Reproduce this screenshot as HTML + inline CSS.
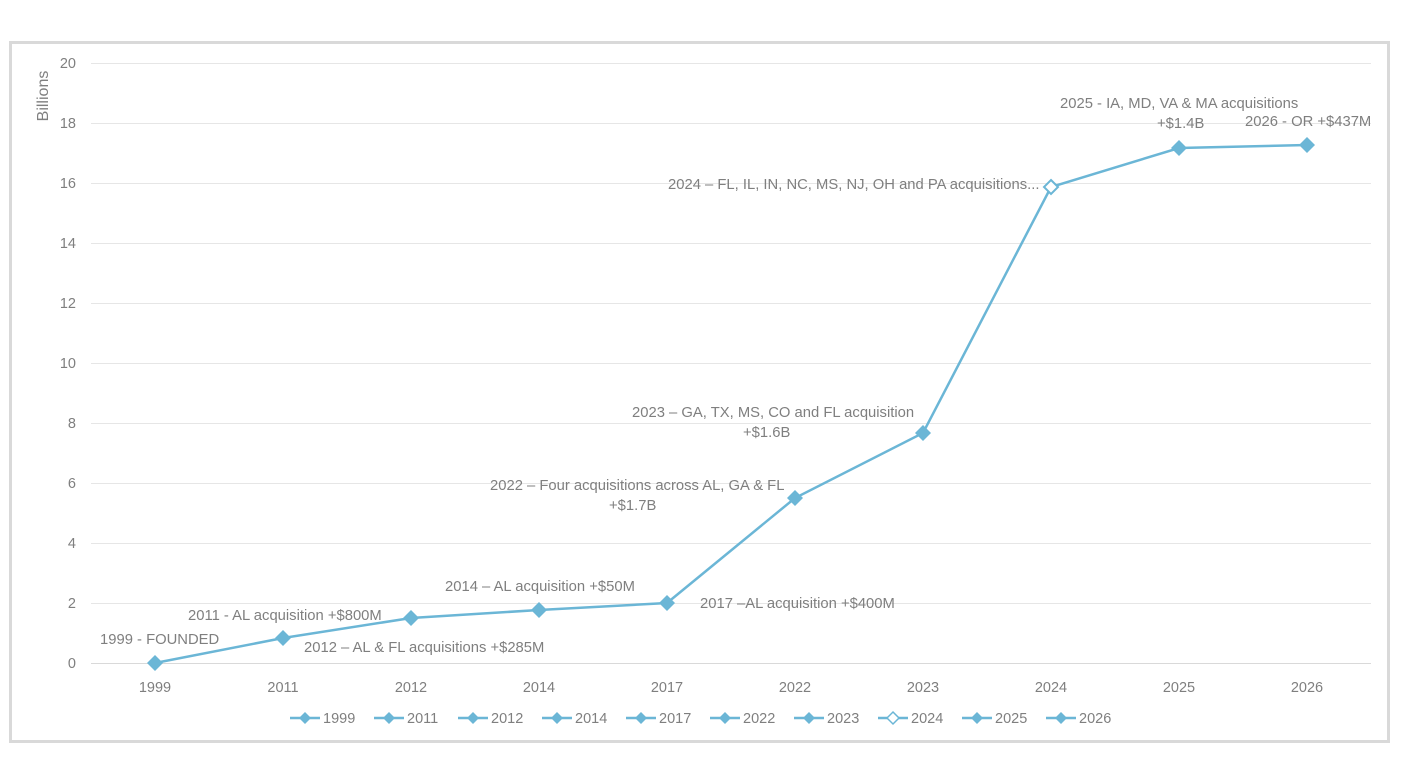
<!DOCTYPE html>
<html><head><meta charset="utf-8"><style>
body{margin:0;background:#fff;}
svg{display:block;font-family:"Liberation Sans",sans-serif;}
</style></head><body>
<svg width="1410" height="782" xmlns="http://www.w3.org/2000/svg">
<rect x="10.5" y="42.5" width="1378" height="699" fill="#fff" stroke="#d9d9d9" stroke-width="3"/>
<g stroke="#e6e6e6" stroke-width="1">
<line x1="91" x2="1371" y1="63.5" y2="63.5"/><line x1="91" x2="1371" y1="123.5" y2="123.5"/>
<line x1="91" x2="1371" y1="183.5" y2="183.5"/><line x1="91" x2="1371" y1="243.5" y2="243.5"/>
<line x1="91" x2="1371" y1="303.5" y2="303.5"/><line x1="91" x2="1371" y1="363.5" y2="363.5"/>
<line x1="91" x2="1371" y1="423.5" y2="423.5"/><line x1="91" x2="1371" y1="483.5" y2="483.5"/>
<line x1="91" x2="1371" y1="543.5" y2="543.5"/><line x1="91" x2="1371" y1="603.5" y2="603.5"/>
</g>
<line x1="91" x2="1371" y1="663.5" y2="663.5" stroke="#d9d9d9"/>
<g fill="#7f7f7f" font-size="14.5" text-anchor="end">
<text x="76" y="68">20</text><text x="76" y="128">18</text><text x="76" y="188">16</text>
<text x="76" y="248">14</text><text x="76" y="308">12</text><text x="76" y="368">10</text>
<text x="76" y="428">8</text><text x="76" y="488">6</text><text x="76" y="548">4</text>
<text x="76" y="608">2</text><text x="76" y="668">0</text>
</g>
<text transform="translate(48,96) rotate(-90)" fill="#7f7f7f" font-size="16" text-anchor="middle">Billions</text>
<g fill="#7f7f7f" font-size="14.5" text-anchor="middle">
<text x="155" y="692">1999</text><text x="283" y="692">2011</text><text x="411" y="692">2012</text>
<text x="539" y="692">2014</text><text x="667" y="692">2017</text><text x="795" y="692">2022</text>
<text x="923" y="692">2023</text><text x="1051" y="692">2024</text><text x="1179" y="692">2025</text>
<text x="1307" y="692">2026</text>
</g>
<polyline fill="none" stroke="#6bb6d6" stroke-width="2.5" points="155,663 283,638 411,618 539,610 667,603 795,498 923,433 1051,187 1179,148 1307,145"/>
<g fill="#6bb6d6">
<path d="M155,655l8,8-8,8-8-8z"/><path d="M283,630l8,8-8,8-8-8z"/><path d="M411,610l8,8-8,8-8-8z"/>
<path d="M539,602l8,8-8,8-8-8z"/><path d="M667,595l8,8-8,8-8-8z"/><path d="M795,490l8,8-8,8-8-8z"/>
<path d="M923,425l8,8-8,8-8-8z"/><path d="M1179,140l8,8-8,8-8-8z"/><path d="M1307,137l8,8-8,8-8-8z"/>
</g>
<path d="M1051,180l7,7-7,7-7-7z" fill="#fff" stroke="#6bb6d6" stroke-width="2"/>
<g fill="#7f7f7f" font-size="14.8">
<text x="100" y="644">1999 - FOUNDED</text>
<text x="188" y="620">2011 - AL acquisition +$800M</text>
<text x="304" y="652">2012 – AL &amp; FL acquisitions +$285M</text>
<text x="445" y="591">2014 – AL acquisition +$50M</text>
<text x="700" y="608">2017 –AL acquisition +$400M</text>
<text x="490" y="490">2022 – Four acquisitions across AL, GA &amp; FL</text>
<text x="609" y="510">+$1.7B</text>
<text x="632" y="417">2023 – GA, TX, MS, CO and FL acquisition</text>
<text x="743" y="437">+$1.6B</text>
<text x="668" y="189">2024 – FL, IL, IN, NC, MS, NJ, OH and PA acquisitions...</text>
<text x="1060" y="108">2025 - IA, MD, VA &amp; MA acquisitions</text>
<text x="1157" y="128">+$1.4B</text>
<text x="1245" y="126">2026 - OR +$437M</text>
</g>
<g font-size="14.5" fill="#7f7f7f">
<g transform="translate(290,0)"><line x1="0" x2="30" y1="718" y2="718" stroke="#6bb6d6" stroke-width="2.5"/><path d="M15,712l6,6-6,6-6-6z" fill="#6bb6d6"/><text x="33" y="723">1999</text></g>
<g transform="translate(374,0)"><line x1="0" x2="30" y1="718" y2="718" stroke="#6bb6d6" stroke-width="2.5"/><path d="M15,712l6,6-6,6-6-6z" fill="#6bb6d6"/><text x="33" y="723">2011</text></g>
<g transform="translate(458,0)"><line x1="0" x2="30" y1="718" y2="718" stroke="#6bb6d6" stroke-width="2.5"/><path d="M15,712l6,6-6,6-6-6z" fill="#6bb6d6"/><text x="33" y="723">2012</text></g>
<g transform="translate(542,0)"><line x1="0" x2="30" y1="718" y2="718" stroke="#6bb6d6" stroke-width="2.5"/><path d="M15,712l6,6-6,6-6-6z" fill="#6bb6d6"/><text x="33" y="723">2014</text></g>
<g transform="translate(626,0)"><line x1="0" x2="30" y1="718" y2="718" stroke="#6bb6d6" stroke-width="2.5"/><path d="M15,712l6,6-6,6-6-6z" fill="#6bb6d6"/><text x="33" y="723">2017</text></g>
<g transform="translate(710,0)"><line x1="0" x2="30" y1="718" y2="718" stroke="#6bb6d6" stroke-width="2.5"/><path d="M15,712l6,6-6,6-6-6z" fill="#6bb6d6"/><text x="33" y="723">2022</text></g>
<g transform="translate(794,0)"><line x1="0" x2="30" y1="718" y2="718" stroke="#6bb6d6" stroke-width="2.5"/><path d="M15,712l6,6-6,6-6-6z" fill="#6bb6d6"/><text x="33" y="723">2023</text></g>
<g transform="translate(878,0)"><line x1="0" x2="30" y1="718" y2="718" stroke="#6bb6d6" stroke-width="2.5"/><path d="M15,712l6,6-6,6-6-6z" fill="#fff" stroke="#6bb6d6" stroke-width="1.5"/><text x="33" y="723">2024</text></g>
<g transform="translate(962,0)"><line x1="0" x2="30" y1="718" y2="718" stroke="#6bb6d6" stroke-width="2.5"/><path d="M15,712l6,6-6,6-6-6z" fill="#6bb6d6"/><text x="33" y="723">2025</text></g>
<g transform="translate(1046,0)"><line x1="0" x2="30" y1="718" y2="718" stroke="#6bb6d6" stroke-width="2.5"/><path d="M15,712l6,6-6,6-6-6z" fill="#6bb6d6"/><text x="33" y="723">2026</text></g>
</g>
</svg>
</body></html>
